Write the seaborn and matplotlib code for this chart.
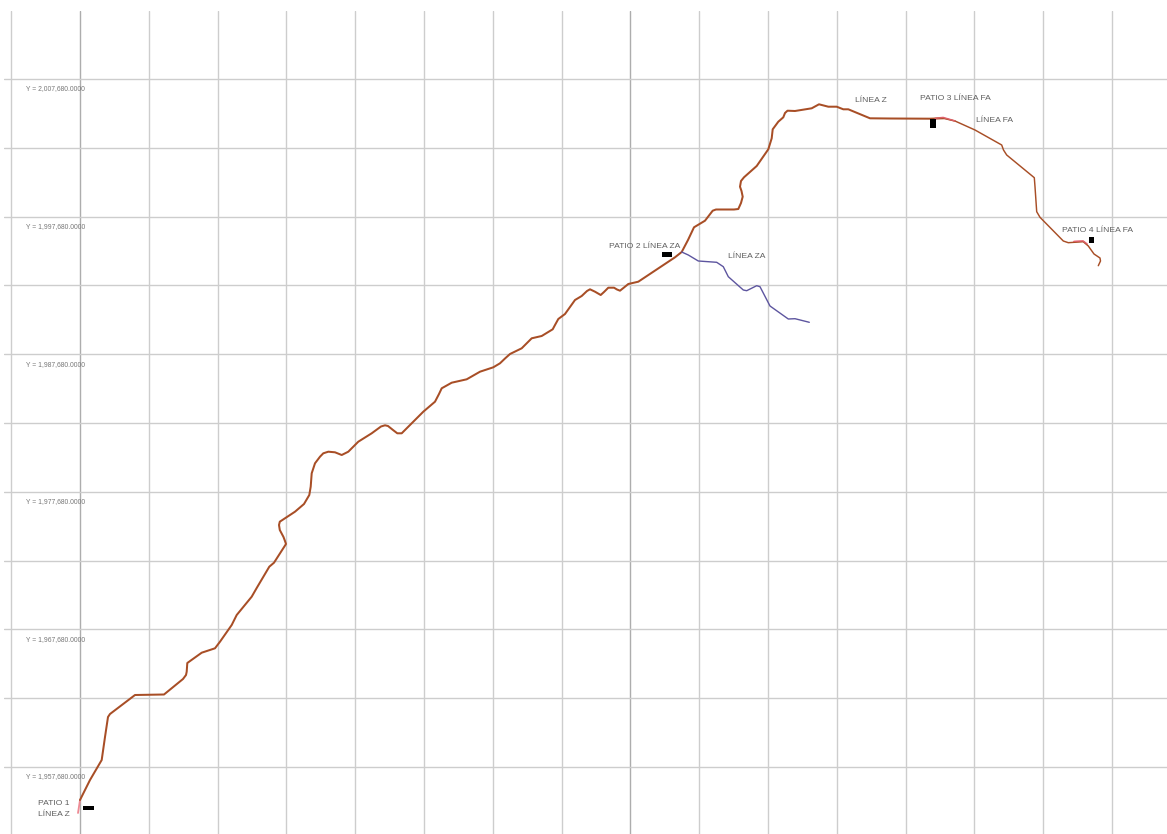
import matplotlib
matplotlib.use("Agg")
import matplotlib.pyplot as plt
import numpy as np
import seaborn as sns
from matplotlib.patches import Rectangle

# route traces (column, row on the scan)
linea_z_col = [80, 90, 101.7, 105, 108, 110, 135, 164, 183, 186, 186.7, 187.3, 201.7, 215, 220, 231.7, 236.7,
               251.7, 256.7, 269.3, 274, 286, 285, 283.5, 279.8, 279, 279.8, 295, 304, 309.3, 310.7, 311.7, 315,
               320, 323.3, 328.3, 335, 341.7, 348.3, 358.3, 371.7, 381, 385, 388, 393, 397.3, 401.7, 423.3, 435,
               439, 441.7, 451.7, 466.7, 480, 493.3, 500, 505, 510, 521.7, 531.7, 541.7, 552.7, 555, 558.3, 565,
               575, 581.7, 587, 590, 595, 600.7, 604, 608.3, 614, 617, 620, 624, 628.3, 638.3, 675, 681.7, 688,
               694, 705, 712.7, 716, 734, 738.3, 741, 742.7, 741.5, 740, 741, 744, 756.7, 768.3, 771.7, 772.7,
               778.3, 783.3, 785, 787.5, 795, 811.7, 819, 828.3, 836.7, 843.3, 848.3, 870, 890, 930, 943.3]
linea_z_row = [800, 780, 760, 737, 717, 714, 695, 694.5, 679, 675, 671.7, 663, 652.7, 648.3, 641.7, 625, 615,
               596.7, 588, 566.7, 562.7, 544, 541, 537, 530, 525, 521.7, 511.7, 504, 495, 486.7, 473.3, 463.3,
               456.7, 453.3, 451.7, 452.3, 455, 451.7, 441.7, 433.3, 426.5, 425.3, 426, 430, 433.3, 433.3, 411.7,
               401.7, 394, 388.3, 382.7, 379.3, 371.7, 367.3, 363.3, 358.5, 354, 348.3, 338.3, 336, 329.3, 325,
               319, 314, 300, 296, 291, 289.3, 291.7, 295, 292, 287.7, 287.7, 289.5, 290.7, 287.5, 284, 281.7,
               257.3, 252, 240, 227.3, 220.7, 210.7, 209.5, 209.5, 209, 203, 196.7, 191, 186.7, 181, 177.3,
               166, 149.3, 138.3, 129.3, 121.7, 117.3, 113, 110.7, 111, 108.3, 104.3, 106.7, 106.7, 109.3,
               109.3, 118.3, 118.5, 118.7, 118.3]
linea_fa_col = [943.3, 955, 975, 1001.7, 1003.5, 1006.7, 1034.3, 1035, 1036.7, 1040, 1063.3, 1068.3, 1083.3,
                1088.3, 1094, 1100, 1100.5, 1098.3]
linea_fa_row = [118.3, 121, 130, 145, 150, 155, 177.7, 186.7, 211.7, 217.3, 241, 242.7, 241.7,
                246, 254, 258, 261, 265.7]
linea_za_col = [681.7, 688.3, 698.3, 716.7, 723.3, 728.3, 743.3, 746.7, 756.7, 760, 770, 788.3, 795, 809.3]
linea_za_row = [252, 255, 261, 262.3, 266.7, 276.7, 290, 290.7, 285.7, 286.7, 306, 319, 318.7, 322.3]

# pink stretches showing through the main line
spur_col = [[78, 80], [935, 943, 955], [1074, 1083, 1087]]
spur_row = [[813, 800], [118.5, 117.5, 121], [241.5, 241, 244]]

patio_col = [83.3, 662, 930.3, 1088.7]
patio_row = [806, 251.7, 119.3, 237.3]
patio_wide = [10.7, 10.3, 5.4, 5]
patio_tall = [4, 5.6, 8.7, 5.7]

grid_north = [1957680 + 5000 * k for k in range(11)]
grid_east = [5000 * k for k in range(-1, 16)]
labelled_north = [1957680, 1967680, 1977680, 1987680, 1997680, 2007680]

place_names = ["LÍNEA Z", "PATIO 3 LÍNEA FA", "LÍNEA FA", "PATIO 4 LÍNEA FA", "PATIO 2 LÍNEA ZA",
               "LÍNEA ZA", "PATIO 1", "LÍNEA Z"]
place_col = [855, 920, 976, 1062, 609, 728, 37.7, 37.7]
place_row = [101, 99, 120, 231, 246, 257, 803.5, 815]

M_PER_PX = 5000 / 68.8


def east(col):
    return (np.asarray(col, dtype=float) - 80) * M_PER_PX


def north(row):
    return 1957680 + (767 - np.asarray(row, dtype=float)) * M_PER_PX


def main():
    sns.set_theme(style="whitegrid", rc={"grid.color": "#cdcdcd", "grid.linewidth": 1.0})
    plt.rcParams["font.family"] = ["Liberation Sans", "DejaVu Sans"]

    fig = plt.figure(figsize=(11.67, 8.34), dpi=100)
    ax = fig.add_axes([4 / 1167, 0, 1163 / 1167, 823 / 834])

    for col, row in zip(spur_col, spur_row):
        sns.lineplot(x=east(col), y=north(row), sort=False, estimator=None, color="#ee8a94", lw=1.3, ax=ax)

    brown = "#a84e26"
    sns.lineplot(x=east(linea_z_col), y=north(linea_z_row), sort=False, estimator=None, color=brown, lw=1.45, ax=ax)
    sns.lineplot(x=east(linea_fa_col), y=north(linea_fa_row), sort=False, estimator=None, color=brown, lw=1.05, ax=ax)
    sns.lineplot(x=east(linea_za_col), y=north(linea_za_row), sort=False, estimator=None, color="#5d559f", lw=1.0, ax=ax)

    # spurs over the brown where they show pink on the sheet
    for col, row in zip(spur_col[1:], spur_row[1:]):
        sns.lineplot(x=east(col), y=north(row), sort=False, estimator=None, color="#e0606c", lw=0.8, ax=ax)

    for col, row, wide, tall in zip(patio_col, patio_row, patio_wide, patio_tall):
        ax.add_patch(Rectangle((east(col), north(row + tall)), wide * M_PER_PX, tall * M_PER_PX,
                               facecolor="black", edgecolor="none", zorder=4))

    for name, col, row in zip(place_names, place_col, place_row):
        ax.text(east(col), north(row), name, fontsize=6.1, color="#5f5f5f", ha="left", va="center")

    for value in labelled_north:
        ax.text(east(26), value - 10 * M_PER_PX, f"Y = {value:,.4f}", fontsize=4.85, color="#777777",
                ha="left", va="center")

    ax.set_xticks(grid_east)
    ax.set_yticks(grid_north)
    ax.set_xlim(east(4), east(1167))
    ax.set_ylim(north(834), north(11))
    ax.tick_params(labelbottom=False, labelleft=False, length=0)
    ax.set_xlabel("")
    ax.set_ylabel("")
    sns.despine(ax=ax, left=True, bottom=True)

    # a few sheet lines print darker than the rest
    for i in [1, 9]:
        ax.get_xgridlines()[i].set_color("#adadad")

    fig.savefig("out.png", dpi=100)


if __name__ == "__main__":
    main()
